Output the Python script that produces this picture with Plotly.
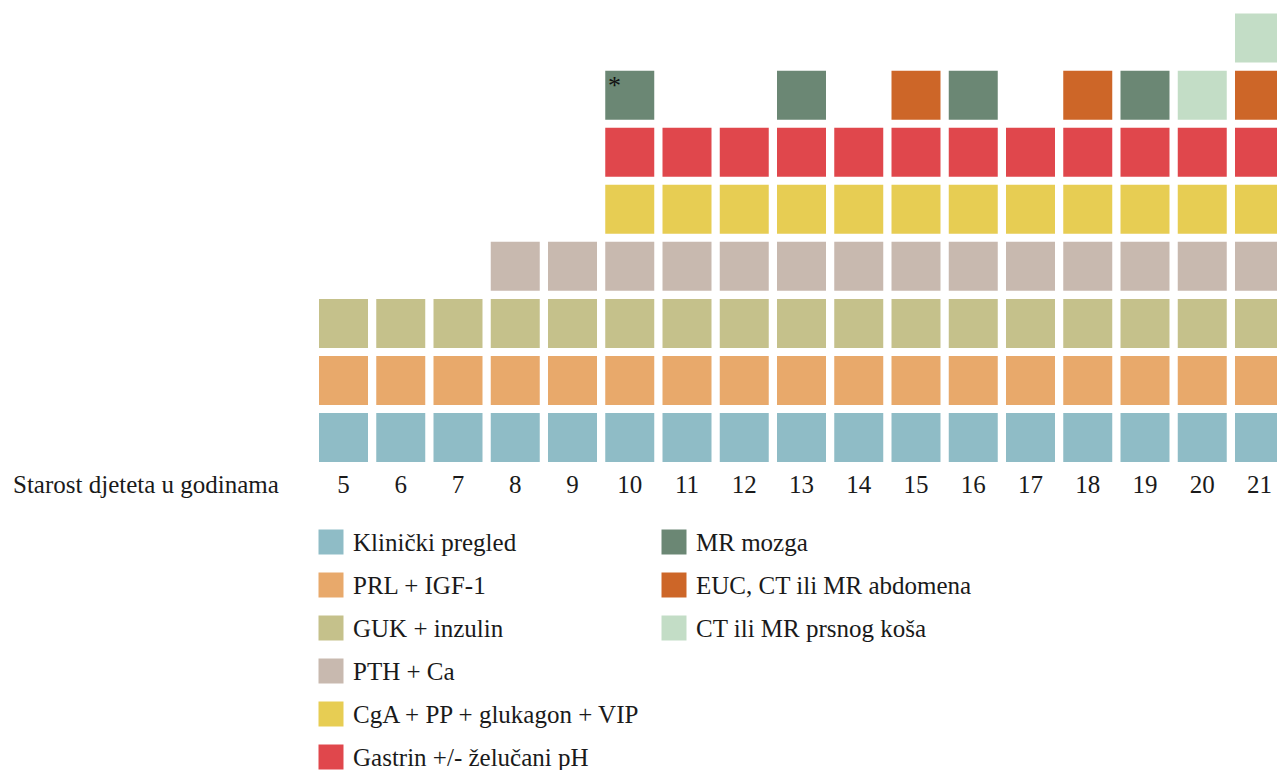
import plotly.graph_objects as go

# ---- data ----
ages = list(range(5, 22))
tests = [
    "Klinički pregled",
    "PRL + IGF-1",
    "GUK + inzulin",
    "PTH + Ca",
    "CgA + PP + glukagon + VIP",
    "Gastrin +/- želučani pH",
    "MR mozga",
    "EUC, CT ili MR abdomena",
    "CT ili MR prsnog koša",
]
klinicki_ages = list(range(5, 22))
prl_ages = list(range(5, 22))
guk_ages = list(range(5, 22))
pth_ages = list(range(8, 22))
cga_ages = list(range(10, 22))
gastrin_ages = list(range(10, 22))
mr_mozga_ages = [10, 13, 16, 19]
euc_ages = [15, 18, 21]
ct_prsni_ages = [20, 21]
test_ages = [klinicki_ages, prl_ages, guk_ages, pth_ages, cga_ages,
             gastrin_ages, mr_mozga_ages, euc_ages, ct_prsni_ages]
colors = ["#8fbcc6", "#e8a96b", "#c5c18b", "#c8b9af", "#e7cd53",
          "#e0474c", "#6b8774", "#cd6628", "#c3ddc6"]
axis_title = "Starost djeteta u godinama"
note_mark = "*"
note_age = 10  # asterisk on the MR mozga square at age 10

FONT = "Liberation Serif"
TXT = "#1a1a1a"
W, H = 1277, 770
PITCH_X = 57.25
PITCH_Y = 57.06
SQ = 49

fig = go.Figure()

# stack each column bottom-up in test order
level_count = {a: 0 for a in ages}
levels_per_test = []
for ages_t in test_ages:
    lv = []
    for a in ages_t:
        lv.append(level_count[a])
        level_count[a] += 1
    levels_per_test.append(lv)

for name, ages_t, lv, col in zip(tests, test_ages, levels_per_test, colors):
    fig.add_trace(go.Scatter(
        x=ages_t, y=lv, mode="markers", name=name,
        marker=dict(symbol="square", size=SQ, color=col, line=dict(width=0)),
        showlegend=False, hoverinfo="name+x",
        xaxis="x", yaxis="y",
    ))

# age tick labels
label_row = -0.86
fig.add_trace(go.Scatter(
    x=ages, y=[label_row] * len(ages), mode="text",
    text=[str(a) for a in ages],
    textfont=dict(family=FONT, size=25, color=TXT),
    showlegend=False, hoverinfo="skip", xaxis="x", yaxis="y",
))

# asterisk
mr_level = levels_per_test[6][mr_mozga_ages.index(note_age)]
fig.add_annotation(
    x=note_age - SQ / 2 / PITCH_X, y=mr_level + SQ / 2 / PITCH_Y,
    xref="x", yref="y", text=note_mark, showarrow=False,
    xanchor="left", yanchor="top", xshift=1, yshift=2,
    font=dict(family=FONT, size=26, color="#111111"),
)

# axis title
fig.add_annotation(
    x=11, y=484, xref="x2", yref="y2", text=axis_title, showarrow=False,
    xanchor="left", yanchor="middle",
    font=dict(family=FONT, size=25, color=TXT),
)

# custom legend in pixel-coordinate overlay axes
leg_cols = [(331, 6), (674, 3)]
idx = 0
for cx, n in leg_cols:
    for r in range(n):
        cy = 542 + 43 * r
        fig.add_trace(go.Scatter(
            x=[cx], y=[cy], mode="markers",
            marker=dict(symbol="square", size=25, color=colors[idx], line=dict(width=0)),
            showlegend=False, hoverinfo="skip", xaxis="x2", yaxis="y2",
        ))
        fig.add_annotation(
            x=cx + 20, y=cy, xref="x2", yref="y2", text=tests[idx],
            showarrow=False, xanchor="left", yanchor="middle",
            font=dict(family=FONT, size=25, color=TXT),
        )
        idx += 1

x0 = 5 - 343.5 / PITCH_X
y1 = 0 + 437.5 / PITCH_Y
fig.update_layout(
    width=W, height=H,
    margin=dict(l=0, r=0, t=0, b=0),
    paper_bgcolor="white", plot_bgcolor="white",
    font=dict(family=FONT),
    xaxis=dict(range=[x0, x0 + W / PITCH_X], visible=False, fixedrange=True),
    yaxis=dict(range=[y1 - H / PITCH_Y, y1], visible=False, fixedrange=True),
    xaxis2=dict(range=[0, W], overlaying="x", visible=False, fixedrange=True),
    yaxis2=dict(range=[H, 0], overlaying="y", visible=False, fixedrange=True),
    showlegend=False,
)

fig.write_html(
    "out.html",
    config={"displayModeBar": False},
    post_script="document.body.style.margin='0px';document.body.style.overflow='hidden';",
)
